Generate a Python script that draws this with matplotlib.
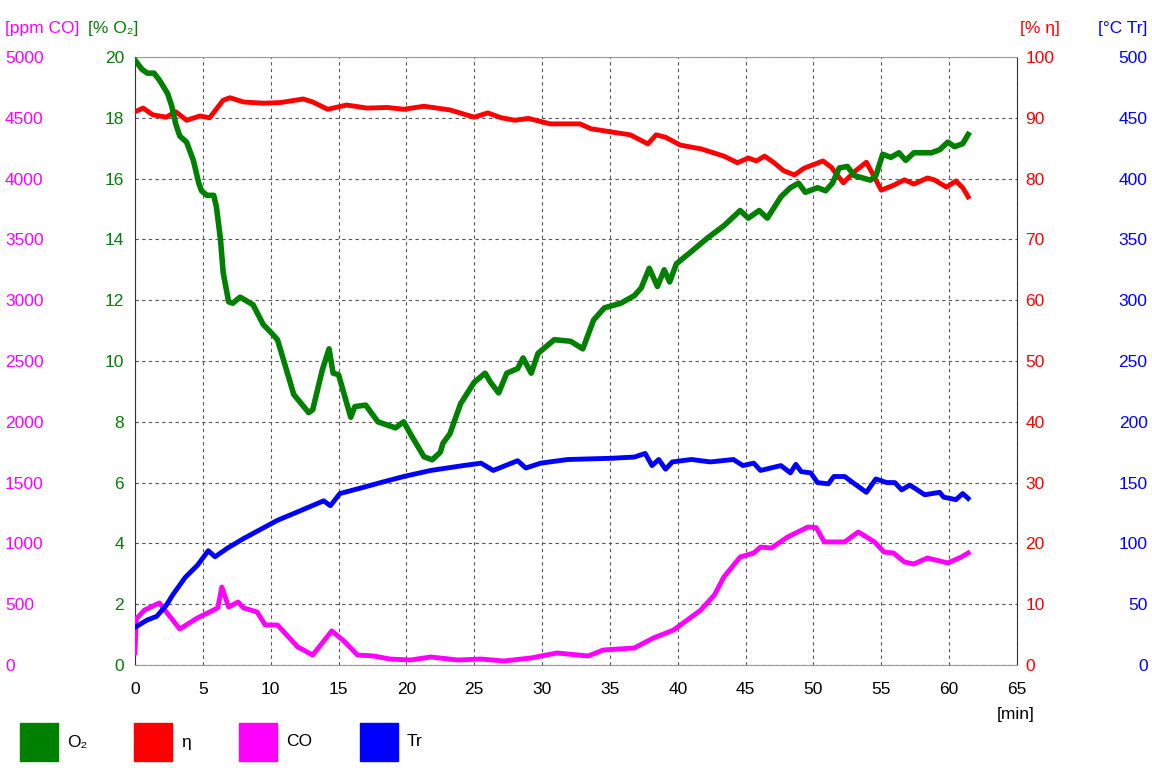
import matplotlib
matplotlib.use("Agg")
import matplotlib.pyplot as plt
from matplotlib.patches import Rectangle

plt.rcParams["font.family"] = ["Liberation Sans", "DejaVu Sans"]

# O2 [%]
t_o2 = [0, 0.5, 0.9, 1.4, 1.8, 2.4, 2.7, 3.0, 3.3, 3.8, 4.3, 4.7, 4.9, 5.3, 5.8, 6.0, 6.3, 6.5, 6.9, 7.2,
        7.75, 8.7, 9.45, 10.1, 10.5, 11.7, 12.8, 13.1, 13.8, 14.3, 14.6, 15.0, 15.9, 16.2, 17.0, 17.9, 19.2,
        19.8, 20.3, 21.3, 21.9, 22.5, 22.7, 23.2, 24.0, 25.0, 25.8, 26.2, 26.8, 27.4, 28.2, 28.6, 29.2, 29.7,
        30.9, 32.1, 33.0, 33.8, 34.6, 35.8, 36.8, 37.3, 37.9, 38.5, 39.0, 39.4, 39.9, 41.0, 42.2, 43.4, 44.6,
        45.2, 46.0, 46.6, 47.6, 48.3, 48.9, 49.4, 50.3, 50.9, 51.4, 51.9, 52.5, 53.0, 54.2, 54.6, 55.1, 55.7,
        56.3, 56.8, 57.4, 58.7, 59.3, 59.9, 60.4, 61.0, 61.4]
o2 = [19.9, 19.6, 19.47, 19.47, 19.24, 18.8, 18.4, 17.8, 17.4, 17.2, 16.6, 15.85, 15.6, 15.45, 15.45, 15.07,
      14.0, 12.9, 11.95, 11.9, 12.1, 11.85, 11.2, 10.9, 10.7, 8.9, 8.3, 8.4, 9.7, 10.4, 9.6, 9.55, 8.15, 8.5,
      8.55, 8.0, 7.8, 8.0, 7.6, 6.85, 6.75, 7.0, 7.3, 7.6, 8.6, 9.3, 9.6, 9.3, 8.95, 9.6, 9.75, 10.1, 9.6,
      10.25, 10.7, 10.65, 10.4, 11.35, 11.75, 11.9, 12.15, 12.4, 13.05, 12.45, 13.0, 12.6, 13.2, 13.6, 14.05,
      14.45, 14.95, 14.7, 14.95, 14.7, 15.4, 15.7, 15.85, 15.55, 15.7, 15.6, 15.85, 16.35, 16.4, 16.1, 15.95,
      16.1, 16.8, 16.7, 16.85, 16.6, 16.85, 16.85, 16.95, 17.2, 17.05, 17.15, 17.45]

# Wirkungsgrad eta [%]
t_eta = [0, 0.6, 1.3, 2.3, 3.0, 3.8, 4.8, 5.5, 6.5, 7.0, 8.0, 9.5, 10.7, 12.4, 13.1, 14.2, 15.6, 17.1, 18.6,
         19.8, 21.3, 23.2, 25.0, 26.0, 27.0, 28.0, 29.0, 30.6, 32.8, 33.6, 35.6, 36.5, 37.8, 38.4, 39.1, 40.2,
         41.7, 43.4, 44.4, 45.2, 45.8, 46.4, 47.1, 47.8, 48.6, 49.3, 50.7, 51.3, 52.2, 53.0, 53.9, 55.0, 55.9,
         56.7, 57.4, 58.4, 58.9, 59.8, 60.5, 61.0, 61.4]
eta = [91.0, 91.6, 90.5, 90.1, 91.0, 89.6, 90.3, 90.0, 92.9, 93.3, 92.6, 92.4, 92.5, 93.1, 92.6, 91.4, 92.1,
       91.6, 91.7, 91.4, 91.9, 91.3, 90.1, 90.8, 90.0, 89.6, 89.9, 89.0, 89.0, 88.2, 87.5, 87.2, 85.7, 87.2,
       86.8, 85.5, 84.9, 83.7, 82.6, 83.4, 82.9, 83.7, 82.6, 81.3, 80.6, 81.7, 82.9, 81.9, 79.3, 81.1, 82.7,
       78.1, 78.9, 79.8, 79.1, 80.1, 79.8, 78.6, 79.6, 78.5, 77.0]

# CO [ppm]
t_co = [0, 0.1, 0.7, 1.8, 2.2, 3.3, 4.6, 5.8, 6.1, 6.4, 6.9, 7.6, 8.0, 9.0, 9.6, 10.5, 12.0, 13.1, 13.8, 14.5,
        15.4, 16.4, 17.6, 18.8, 20.3, 21.8, 23.8, 25.5, 27.2, 29.2, 31.1, 33.4, 34.5, 36.8, 38.2, 39.7, 40.7,
        41.7, 42.7, 43.4, 44.6, 45.6, 46.1, 46.9, 48.1, 49.6, 50.2, 50.8, 52.3, 53.3, 54.5, 55.2, 55.9, 56.7,
        57.4, 58.4, 59.9, 60.9, 61.4]
co = [100, 380, 452, 510, 452, 296, 387, 452, 470, 641, 477, 518, 469, 436, 329, 329, 148, 82, 181, 280, 197,
      82, 74, 49, 41, 66, 41, 49, 33, 58, 99, 74, 123, 140, 222, 288, 370, 452, 576, 724, 888, 921, 970, 962,
      1053, 1135, 1130, 1012, 1012, 1094, 1012, 929, 921, 847, 831, 880, 839, 888, 921]

# Rauchgastemperatur Tr [°C]
t_tr = [0, 0.9, 1.6, 2.3, 2.8, 3.7, 4.6, 5.4, 5.9, 6.8, 8.0, 9.5, 10.5, 12.0, 13.9, 14.4, 15.1, 16.8, 18.1,
        19.8, 21.8, 24.2, 25.5, 26.4, 28.2, 28.8, 29.9, 31.9, 35.1, 36.8, 37.6, 38.1, 38.6, 39.1, 39.6, 41.0,
        42.4, 44.1, 44.8, 45.6, 46.1, 47.6, 48.3, 48.7, 49.1, 49.8, 50.3, 51.1, 51.5, 52.3, 52.9, 53.9, 54.6,
        55.4, 56.0, 56.5, 57.1, 58.2, 59.3, 59.6, 60.5, 61.0, 61.4]
tr = [31, 37, 40, 49, 58, 72, 82, 94, 89, 96, 104, 113, 119, 126, 135, 131, 141, 146, 150, 155, 160, 164, 166,
      160, 168, 162, 166, 169, 170, 171, 174, 164, 169, 161, 167, 169, 167, 169, 164, 166, 160, 164, 158, 165,
      159, 158, 150, 149, 155, 155, 150, 142, 153, 150, 150, 144, 148, 140, 142, 138, 136, 141, 137]

GREEN = "#008000"
RED = "#FF0000"
MAGENTA = "#FF00FF"
BLUE = "#0000FF"
FS = 12.5
LW = 3.5

fig = plt.figure(figsize=(11.52, 7.68), dpi=100)
ax = fig.add_axes([135 / 1152, 1 - 665 / 768, 882 / 1152, 608 / 768])

# Gitter
ax.set_xlim(0, 65)
ax.set_ylim(0, 20)
ax.set_xticks(range(0, 66, 5))
ax.set_yticks(range(0, 21, 2))
ax.grid(True, color="#555555", linestyle=(0, (3, 3)), linewidth=0.8)
ax.tick_params(axis="both", length=0, labelsize=FS)
ax.tick_params(axis="x", pad=12)
ax.tick_params(axis="y", pad=8, labelcolor=GREEN)
for s in ["left", "right"]:
    ax.spines[s].set_color("#333333")
for s in ["top", "bottom"]:
    ax.spines[s].set_color("#999999")

# weitere Achsen
ax_co = ax.twinx()
ax_co.set_ylim(0, 5000)
ax_co.set_yticks(range(0, 5001, 500))
ax_co.yaxis.tick_left()
ax_co.tick_params(axis="y", length=0, labelsize=FS, labelcolor=MAGENTA, pad=93.6)
for lab in ax_co.get_yticklabels():
    lab.set_ha("left")

ax_eta = ax.twinx()
ax_eta.set_ylim(0, 100)
ax_eta.set_yticks(range(0, 101, 10))
ax_eta.tick_params(axis="y", length=0, labelsize=FS, labelcolor=RED, pad=6)

ax_tr = ax.twinx()
ax_tr.set_ylim(0, 500)
ax_tr.set_yticks(range(0, 501, 50))
ax_tr.tick_params(axis="y", length=0, labelsize=FS, labelcolor=BLUE, pad=94)
for lab in ax_tr.get_yticklabels():
    lab.set_ha("right")

for a in [ax_co, ax_eta, ax_tr]:
    for s in a.spines.values():
        s.set_visible(False)

# Kurven
ax_tr.plot(t_tr, tr, color=BLUE, lw=LW)
ax_co.plot(t_co, co, color=MAGENTA, lw=LW)
ax_eta.plot(t_eta, eta, color=RED, lw=LW)
ax_tr.plot(t_o2, [v * 25 for v in o2], color=GREEN, lw=LW + 0.5)

# Einheiten
fig.text(5 / 1152, 1 - 28 / 768, "[ppm CO]", color=MAGENTA, fontsize=FS, va="center")
fig.text(88 / 1152, 1 - 28 / 768, "[% O₂]", color=GREEN, fontsize=FS, va="center")
fig.text(1020 / 1152, 1 - 28 / 768, "[% η]", color=RED, fontsize=FS, va="center")
fig.text(1098 / 1152, 1 - 28 / 768, "[°C Tr]", color=BLUE, fontsize=FS, va="center")
fig.text(1035 / 1152, 1 - 715 / 768, "[min]", color="black", fontsize=FS, va="center", ha="right")

# Legende
legend_items = [("O₂", GREEN, 20), ("η", RED, 134), ("CO", MAGENTA, 239), ("Tr", BLUE, 360)]
for name, col, x0 in legend_items:
    fig.patches.append(Rectangle((x0 / 1152, 1 - 761 / 768), 38 / 1152, 38 / 768,
                                 transform=fig.transFigure, color=col))
    fig.text((x0 + 47) / 1152, 1 - 742 / 768, name, fontsize=FS, va="center")

fig.savefig("out.png", dpi=100)
